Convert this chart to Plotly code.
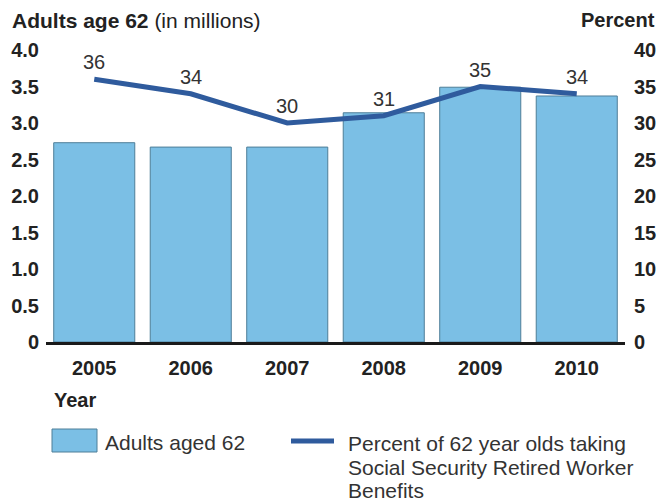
import plotly.graph_objects as go

years = ["2005", "2006", "2007", "2008", "2009", "2010"]
adults_millions = [2.73, 2.67, 2.67, 3.14, 3.49, 3.37]
percent_taking = [36, 34, 30, 31, 35, 34]
left_ticks = [0, 0.5, 1.0, 1.5, 2.0, 2.5, 3.0, 3.5, 4.0]
left_tick_text = ["0", "0.5", "1.0", "1.5", "2.0", "2.5", "3.0", "3.5", "4.0"]
right_ticks = [0, 5, 10, 15, 20, 25, 30, 35, 40]

BAR = "#7BBFE5"
BAR_EDGE = "#4E7E98"
LINE = "#2F5B9D"
TXT = "#222222"
FONT = "Liberation Sans, Arial, sans-serif"

fig = go.Figure()
fig.add_trace(go.Bar(
    x=years, y=adults_millions, name="Adults aged 62",
    marker=dict(color=BAR, line=dict(color=BAR_EDGE, width=1)),
    showlegend=False,
))
fig.add_trace(go.Scatter(
    x=years, y=percent_taking, yaxis="y2", mode="lines",
    line=dict(color=LINE, width=5),
    name="Percent of 62 year olds taking Social Security Retired Worker Benefits",
    showlegend=False, cliponaxis=False,
))

W, H = 659, 502
L, R, T, B = 46, 34, 50, 160
pw, ph = W - L - R, H - T - B

def px(x):
    return (x - L) / pw

def py(y):
    return (H - B - y) / ph

fig.update_layout(
    width=W, height=H,
    margin=dict(l=L, r=R, t=T, b=B, autoexpand=False),
    paper_bgcolor="white", plot_bgcolor="white",
    bargap=0.16, hovermode=False,
    font=dict(family=FONT, color=TXT),
    xaxis=dict(
        type="category", showgrid=False, zeroline=False, automargin=False,
        showline=True, linecolor="#1a1a1a", linewidth=2.5,
        ticks="", ticklabelstandoff=6,
        tickfont=dict(family=FONT, size=20, color=TXT, weight="bold"),
    ),
    yaxis=dict(
        range=[0, 4], tickvals=left_ticks, ticktext=left_tick_text,
        showgrid=False, zeroline=False, showline=False, ticks="",
        ticklabelstandoff=6, automargin=False,
        tickfont=dict(family=FONT, size=20, color=TXT, weight="bold"),
    ),
    yaxis2=dict(
        range=[0, 40], tickvals=right_ticks, overlaying="y", side="right",
        showgrid=False, zeroline=False, showline=False, ticks="",
        ticklabelstandoff=8, automargin=False,
        tickfont=dict(family=FONT, size=20, color=TXT, weight="bold"),
    ),
)

ann = []
# data labels above the line points (category index positions)
for i, v in enumerate(percent_taking):
    ann.append(dict(x=i, y=v, xref="x", yref="y2", text=str(v), yshift=17,
                    showarrow=False, xanchor="center", yanchor="middle",
                    font=dict(size=20, color="#333333")))

paper_ann = [
    dict(x=px(10), y=py(20), text="<b>Adults age 62</b> (in millions)",
         xanchor="left", yanchor="middle", font=dict(size=21, color=TXT)),
    dict(x=px(657), y=py(20), text="<b>Percent</b>",
         xanchor="right", yanchor="middle", font=dict(size=20, color=TXT)),
    dict(x=px(52), y=py(400), text="<b>Year</b>",
         xanchor="left", yanchor="middle", font=dict(size=20, color=TXT)),
    dict(x=px(103), y=py(442), text="Adults aged 62",
         xanchor="left", yanchor="middle", font=dict(size=21, color="#333333")),
    dict(x=px(346), y=py(443), text="Percent of 62 year olds taking",
         xanchor="left", yanchor="middle", font=dict(size=21, color="#333333")),
    dict(x=px(346), y=py(467), text="Social Security Retired Worker",
         xanchor="left", yanchor="middle", font=dict(size=21, color="#333333")),
    dict(x=px(346), y=py(490), text="Benefits",
         xanchor="left", yanchor="middle", font=dict(size=21, color="#333333")),
]
for a in paper_ann:
    a.update(xref="paper", yref="paper", showarrow=False)
fig.update_layout(annotations=ann + paper_ann)

fig.add_shape(type="rect", xref="paper", yref="paper",
              x0=px(52), x1=px(97), y0=py(452), y1=py(429),
              fillcolor=BAR, line=dict(color=BAR_EDGE, width=1))
fig.add_shape(type="line", xref="paper", yref="paper",
              x0=px(291), x1=px(334), y0=py(441), y1=py(441),
              line=dict(color=LINE, width=5))

fig.write_html("out.html", config={"displayModeBar": False},
               post_script="document.body.style.margin='0';")
